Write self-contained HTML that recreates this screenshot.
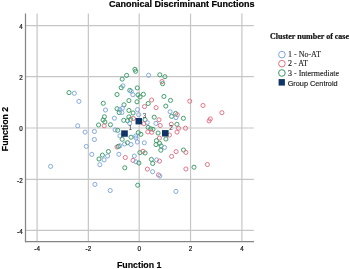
<!DOCTYPE html>
<html><head><meta charset="utf-8"><style>
html,body{margin:0;padding:0;background:#fff;width:350px;height:269px;overflow:hidden}
svg{display:block;will-change:transform}
text{-webkit-font-smoothing:antialiased}
</style></head><body>
<svg width="350" height="269" viewBox="0 0 350 269">
<rect width="350" height="269" fill="#fff"/>
<g stroke="#c6c6c6" stroke-width="1.2">
<line x1="37.1" y1="13.6" x2="37.1" y2="241" />
<line x1="88.35" y1="13.6" x2="88.35" y2="241" />
<line x1="139.2" y1="13.6" x2="139.2" y2="241" />
<line x1="190.55" y1="13.6" x2="190.55" y2="241" />
<line x1="241.9" y1="13.6" x2="241.9" y2="241" />
<line x1="25" y1="25.7" x2="253.8" y2="25.7" />
<line x1="25" y1="76.55" x2="253.8" y2="76.55" />
<line x1="25" y1="128" x2="253.8" y2="128" />
<line x1="25" y1="179.35" x2="253.8" y2="179.35" />
<line x1="25" y1="230.3" x2="253.8" y2="230.3" />
</g>
<line x1="25.5" y1="13.5" x2="25.5" y2="242.2" stroke="#858585" stroke-width="1.25"/>
<line x1="24.9" y1="241.6" x2="254" y2="241.6" stroke="#858585" stroke-width="1.25"/>
<g font-family="Liberation Sans, sans-serif" font-size="6.3" fill="#111" stroke="#111" stroke-width="0.2">
<text x="37.1" y="251.2" text-anchor="middle">-4</text>
<text x="88.35" y="251.2" text-anchor="middle">-2</text>
<text x="139.2" y="251.2" text-anchor="middle">0</text>
<text x="190.55" y="251.2" text-anchor="middle">2</text>
<text x="241.9" y="251.2" text-anchor="middle">4</text>
<text x="22.7" y="29.099999999999998" text-anchor="end">4</text>
<text x="22.7" y="79.95" text-anchor="end">2</text>
<text x="22.7" y="131.4" text-anchor="end">0</text>
<text x="22.7" y="182.75" text-anchor="end">-2</text>
<text x="22.7" y="233.70000000000002" text-anchor="end">-4</text>
</g>
<g fill="none" stroke-width="0.95">
<circle cx="69.0" cy="92.6" r="2.05" stroke="#3a9a66"/>
<circle cx="74.3" cy="93.3" r="2.05" stroke="#7ea5dc"/>
<circle cx="78.9" cy="101.4" r="2.05" stroke="#7ea5dc"/>
<circle cx="77.7" cy="125.8" r="2.05" stroke="#7ea5dc"/>
<circle cx="85.1" cy="132.1" r="2.05" stroke="#7ea5dc"/>
<circle cx="86.3" cy="146.4" r="2.05" stroke="#7ea5dc"/>
<circle cx="50.6" cy="166.4" r="2.05" stroke="#7ea5dc"/>
<circle cx="91.8" cy="154.4" r="2.05" stroke="#7ea5dc"/>
<circle cx="94.4" cy="131.5" r="2.05" stroke="#7ea5dc"/>
<circle cx="94.4" cy="139.5" r="2.05" stroke="#7ea5dc"/>
<circle cx="134.9" cy="69.3" r="2.05" stroke="#3a9a66"/>
<circle cx="135.6" cy="71.3" r="2.05" stroke="#3a9a66"/>
<circle cx="126.6" cy="75.4" r="2.05" stroke="#3a9a66"/>
<circle cx="122.2" cy="79.1" r="2.05" stroke="#3a9a66"/>
<circle cx="148.6" cy="75.3" r="2.05" stroke="#7ea5dc"/>
<circle cx="159.8" cy="74.8" r="2.05" stroke="#3a9a66"/>
<circle cx="164.9" cy="76.7" r="2.05" stroke="#3a9a66"/>
<circle cx="162.0" cy="81.5" r="2.05" stroke="#e07082"/>
<circle cx="162.6" cy="83.7" r="2.05" stroke="#3a9a66"/>
<circle cx="122.9" cy="85.8" r="2.05" stroke="#7ea5dc"/>
<circle cx="121.2" cy="87.7" r="2.05" stroke="#3a9a66"/>
<circle cx="137.3" cy="87.9" r="2.05" stroke="#3a9a66"/>
<circle cx="129.8" cy="90.4" r="2.05" stroke="#3a9a66"/>
<circle cx="131.2" cy="91.3" r="2.05" stroke="#7ea5dc"/>
<circle cx="132.9" cy="94.7" r="2.05" stroke="#7ea5dc"/>
<circle cx="138.0" cy="94.8" r="2.05" stroke="#3a9a66"/>
<circle cx="140.0" cy="96.9" r="2.05" stroke="#3a9a66"/>
<circle cx="143.4" cy="94.3" r="2.05" stroke="#3a9a66"/>
<circle cx="117.0" cy="94.5" r="2.05" stroke="#3a9a66"/>
<circle cx="128.9" cy="100.6" r="2.05" stroke="#3a9a66"/>
<circle cx="137.0" cy="101.8" r="2.05" stroke="#3a9a66"/>
<circle cx="151.6" cy="100.0" r="2.05" stroke="#e07082"/>
<circle cx="148.2" cy="103.5" r="2.05" stroke="#3a9a66"/>
<circle cx="103.3" cy="103.3" r="2.05" stroke="#3a9a66"/>
<circle cx="124.0" cy="104.8" r="2.05" stroke="#3a9a66"/>
<circle cx="144.5" cy="106.6" r="2.05" stroke="#e07082"/>
<circle cx="156.1" cy="107.6" r="2.05" stroke="#e07082"/>
<circle cx="163.9" cy="96.5" r="2.05" stroke="#3a9a66"/>
<circle cx="170.5" cy="100.4" r="2.05" stroke="#3a9a66"/>
<circle cx="165.8" cy="106.1" r="2.05" stroke="#3a9a66"/>
<circle cx="189.7" cy="101.2" r="2.05" stroke="#e07082"/>
<circle cx="203.0" cy="105.5" r="2.05" stroke="#e07082"/>
<circle cx="105.5" cy="110.0" r="2.05" stroke="#7ea5dc"/>
<circle cx="117.0" cy="108.7" r="2.05" stroke="#3a9a66"/>
<circle cx="119.9" cy="109.6" r="2.05" stroke="#7ea5dc"/>
<circle cx="122.4" cy="108.3" r="2.05" stroke="#7ea5dc"/>
<circle cx="119.2" cy="112.6" r="2.05" stroke="#3a9a66"/>
<circle cx="121.9" cy="112.5" r="2.05" stroke="#7ea5dc"/>
<circle cx="128.9" cy="110.4" r="2.05" stroke="#3a9a66"/>
<circle cx="137.5" cy="109.6" r="2.05" stroke="#7ea5dc"/>
<circle cx="133.1" cy="113.0" r="2.05" stroke="#3a9a66"/>
<circle cx="138.7" cy="114.7" r="2.05" stroke="#7ea5dc"/>
<circle cx="104.4" cy="116.8" r="2.05" stroke="#3a9a66"/>
<circle cx="103.1" cy="120.0" r="2.05" stroke="#3a9a66"/>
<circle cx="104.9" cy="122.0" r="2.05" stroke="#3a9a66"/>
<circle cx="114.4" cy="118.2" r="2.05" stroke="#7ea5dc"/>
<circle cx="123.7" cy="120.3" r="2.05" stroke="#3a9a66"/>
<circle cx="110.4" cy="124.7" r="2.05" stroke="#3a9a66"/>
<circle cx="98.6" cy="125.0" r="2.05" stroke="#3a9a66"/>
<circle cx="104.2" cy="125.8" r="2.05" stroke="#e07082"/>
<circle cx="128.9" cy="116.9" r="2.05" stroke="#3a9a66"/>
<circle cx="130.6" cy="119.4" r="2.05" stroke="#3a9a66"/>
<circle cx="127.6" cy="120.7" r="2.05" stroke="#3a9a66"/>
<circle cx="129.7" cy="123.3" r="2.05" stroke="#7ea5dc"/>
<circle cx="133.4" cy="118.5" r="2.05" stroke="#e07082"/>
<circle cx="145.1" cy="119.7" r="2.05" stroke="#3a9a66"/>
<circle cx="147.2" cy="122.6" r="2.05" stroke="#7ea5dc"/>
<circle cx="143.8" cy="123.7" r="2.05" stroke="#e07082"/>
<circle cx="154.2" cy="117.2" r="2.05" stroke="#3a9a66"/>
<circle cx="159.0" cy="119.8" r="2.05" stroke="#e07082"/>
<circle cx="155.9" cy="123.4" r="2.05" stroke="#7ea5dc"/>
<circle cx="160.2" cy="125.5" r="2.05" stroke="#e07082"/>
<circle cx="170.1" cy="111.8" r="2.05" stroke="#7ea5dc"/>
<circle cx="175.6" cy="113.5" r="2.05" stroke="#3a9a66"/>
<circle cx="177.3" cy="114.7" r="2.05" stroke="#e07082"/>
<circle cx="171.6" cy="116.4" r="2.05" stroke="#3a9a66"/>
<circle cx="176.0" cy="117.6" r="2.05" stroke="#7ea5dc"/>
<circle cx="183.4" cy="118.3" r="2.05" stroke="#3a9a66"/>
<circle cx="171.3" cy="124.2" r="2.05" stroke="#e07082"/>
<circle cx="176.9" cy="124.3" r="2.05" stroke="#3a9a66"/>
<circle cx="178.6" cy="128.3" r="2.05" stroke="#e07082"/>
<circle cx="185.5" cy="128.2" r="2.05" stroke="#e07082"/>
<circle cx="210.3" cy="118.9" r="2.05" stroke="#e07082"/>
<circle cx="209.1" cy="120.9" r="2.05" stroke="#e07082"/>
<circle cx="221.9" cy="112.7" r="2.05" stroke="#e07082"/>
<circle cx="115.1" cy="129.9" r="2.05" stroke="#7ea5dc"/>
<circle cx="117.7" cy="130.3" r="2.05" stroke="#3a9a66"/>
<circle cx="119.9" cy="135.9" r="2.05" stroke="#7ea5dc"/>
<circle cx="122.2" cy="139.3" r="2.05" stroke="#3a9a66"/>
<circle cx="124.6" cy="144.0" r="2.05" stroke="#7ea5dc"/>
<circle cx="127.5" cy="142.7" r="2.05" stroke="#3a9a66"/>
<circle cx="117.0" cy="147.0" r="2.05" stroke="#e07082"/>
<circle cx="119.9" cy="145.8" r="2.05" stroke="#7ea5dc"/>
<circle cx="138.3" cy="132.6" r="2.05" stroke="#3a9a66"/>
<circle cx="140.9" cy="134.3" r="2.05" stroke="#3a9a66"/>
<circle cx="135.7" cy="136.0" r="2.05" stroke="#7ea5dc"/>
<circle cx="135.9" cy="138.0" r="2.05" stroke="#7ea5dc"/>
<circle cx="131.0" cy="137.2" r="2.05" stroke="#3a9a66"/>
<circle cx="137.3" cy="142.0" r="2.05" stroke="#7ea5dc"/>
<circle cx="144.3" cy="142.8" r="2.05" stroke="#7ea5dc"/>
<circle cx="131.0" cy="144.5" r="2.05" stroke="#7ea5dc"/>
<circle cx="148.1" cy="127.4" r="2.05" stroke="#3a9a66"/>
<circle cx="150.7" cy="128.8" r="2.05" stroke="#3a9a66"/>
<circle cx="153.0" cy="129.3" r="2.05" stroke="#3a9a66"/>
<circle cx="147.8" cy="131.9" r="2.05" stroke="#e07082"/>
<circle cx="151.7" cy="132.3" r="2.05" stroke="#e07082"/>
<circle cx="158.1" cy="133.0" r="2.05" stroke="#3a9a66"/>
<circle cx="169.4" cy="135.1" r="2.05" stroke="#e07082"/>
<circle cx="177.0" cy="132.1" r="2.05" stroke="#e07082"/>
<circle cx="159.4" cy="138.1" r="2.05" stroke="#e07082"/>
<circle cx="165.9" cy="139.0" r="2.05" stroke="#3a9a66"/>
<circle cx="156.4" cy="140.7" r="2.05" stroke="#3a9a66"/>
<circle cx="156.0" cy="144.6" r="2.05" stroke="#3a9a66"/>
<circle cx="159.6" cy="143.3" r="2.05" stroke="#3a9a66"/>
<circle cx="161.1" cy="145.9" r="2.05" stroke="#3a9a66"/>
<circle cx="164.5" cy="147.4" r="2.05" stroke="#7ea5dc"/>
<circle cx="160.8" cy="150.2" r="2.05" stroke="#3a9a66"/>
<circle cx="176.1" cy="151.6" r="2.05" stroke="#e07082"/>
<circle cx="108.4" cy="151.5" r="2.05" stroke="#3a9a66"/>
<circle cx="102.4" cy="155.1" r="2.05" stroke="#3a9a66"/>
<circle cx="107.6" cy="156.0" r="2.05" stroke="#7ea5dc"/>
<circle cx="99.0" cy="159.0" r="2.05" stroke="#3a9a66"/>
<circle cx="104.1" cy="159.9" r="2.05" stroke="#7ea5dc"/>
<circle cx="99.9" cy="164.7" r="2.05" stroke="#7ea5dc"/>
<circle cx="118.9" cy="154.3" r="2.05" stroke="#7ea5dc"/>
<circle cx="139.9" cy="152.6" r="2.05" stroke="#3a9a66"/>
<circle cx="142.9" cy="151.3" r="2.05" stroke="#e07082"/>
<circle cx="145.1" cy="153.0" r="2.05" stroke="#3a9a66"/>
<circle cx="125.3" cy="157.5" r="2.05" stroke="#e07082"/>
<circle cx="134.3" cy="156.0" r="2.05" stroke="#7ea5dc"/>
<circle cx="133.0" cy="160.4" r="2.05" stroke="#e07082"/>
<circle cx="136.0" cy="161.8" r="2.05" stroke="#7ea5dc"/>
<circle cx="138.9" cy="163.0" r="2.05" stroke="#3a9a66"/>
<circle cx="151.4" cy="159.4" r="2.05" stroke="#3a9a66"/>
<circle cx="152.7" cy="163.5" r="2.05" stroke="#3a9a66"/>
<circle cx="156.6" cy="159.9" r="2.05" stroke="#7ea5dc"/>
<circle cx="159.5" cy="161.1" r="2.05" stroke="#e07082"/>
<circle cx="171.6" cy="156.4" r="2.05" stroke="#e07082"/>
<circle cx="183.5" cy="150.0" r="2.05" stroke="#3a9a66"/>
<circle cx="185.9" cy="152.4" r="2.05" stroke="#e07082"/>
<circle cx="124.8" cy="167.8" r="2.05" stroke="#3a9a66"/>
<circle cx="147.4" cy="169.1" r="2.05" stroke="#e07082"/>
<circle cx="152.6" cy="171.7" r="2.05" stroke="#7ea5dc"/>
<circle cx="158.5" cy="174.9" r="2.05" stroke="#e07082"/>
<circle cx="159.8" cy="176.0" r="2.05" stroke="#7ea5dc"/>
<circle cx="185.9" cy="169.0" r="2.05" stroke="#e07082"/>
<circle cx="194.0" cy="167.2" r="2.05" stroke="#3a9a66"/>
<circle cx="207.4" cy="164.5" r="2.05" stroke="#e07082"/>
<circle cx="94.9" cy="184.4" r="2.05" stroke="#7ea5dc"/>
<circle cx="110.2" cy="190.5" r="2.05" stroke="#7ea5dc"/>
<circle cx="137.7" cy="185.2" r="2.05" stroke="#3a9a66"/>
<circle cx="175.9" cy="191.4" r="2.05" stroke="#7ea5dc"/>
<circle cx="118.4" cy="146.4" r="2.05" stroke="#3a9a66"/>
</g>
<rect x="121.2" y="130.35000000000002" width="6.6" height="6.4" fill="#0f3465"/>
<rect x="162.0" y="130.10000000000002" width="6.6" height="6.4" fill="#0f3465"/>
<rect x="135.5" y="118.0" width="6.6" height="6.4" fill="#0f3465"/>
<g font-family="Liberation Sans, sans-serif" font-size="6.4" fill="#333">
<text x="128.4" y="130.25">1</text>
<text x="169.20000000000002" y="130.0">2</text>
<text x="142.70000000000002" y="117.9">3</text>
</g>
<text x="109" y="6.8" font-family="Liberation Sans, sans-serif" font-weight="bold" font-size="9" fill="#000" stroke="#000" stroke-width="0.2">Canonical Discriminant Functions</text>
<text x="139.2" y="268" text-anchor="middle" font-family="Liberation Sans, sans-serif" font-weight="bold" font-size="8.8" fill="#000" stroke="#000" stroke-width="0.15">Function 1</text>
<text transform="translate(7.8,129) rotate(-90)" text-anchor="middle" font-family="Liberation Sans, sans-serif" font-weight="bold" font-size="8.8" fill="#000" stroke="#000" stroke-width="0.15">Function 2</text>
<text x="270" y="38.9" font-family="Liberation Serif, serif" font-weight="bold" font-size="8" fill="#111" stroke="#111" stroke-width="0.2">Cluster number of case</text>
<g fill="none" stroke-width="1">
<circle cx="281.9" cy="54.6" r="3.3" stroke="#7ea5dc"/>
<circle cx="281.9" cy="63.7" r="3.3" stroke="#e07082"/>
<circle cx="281.9" cy="73" r="3.3" stroke="#3a9a66"/>
</g>
<rect x="278.6" y="79.1" width="6.3" height="6.5" fill="#0f3465"/>
<g font-family="Liberation Serif, serif" font-size="8" fill="#1a1a1a" stroke="#1a1a1a" stroke-width="0.12">
<text x="288" y="57">1 - No-AT</text>
<text x="288" y="66.2">2 - AT</text>
<text x="288" y="75.5">3 - Intermediate</text>
</g>
<text x="287.7" y="85.8" font-family="Liberation Sans, sans-serif" font-size="7.3" fill="#222" stroke="#222" stroke-width="0.15">Group Centroid</text>
</svg>
</body></html>
